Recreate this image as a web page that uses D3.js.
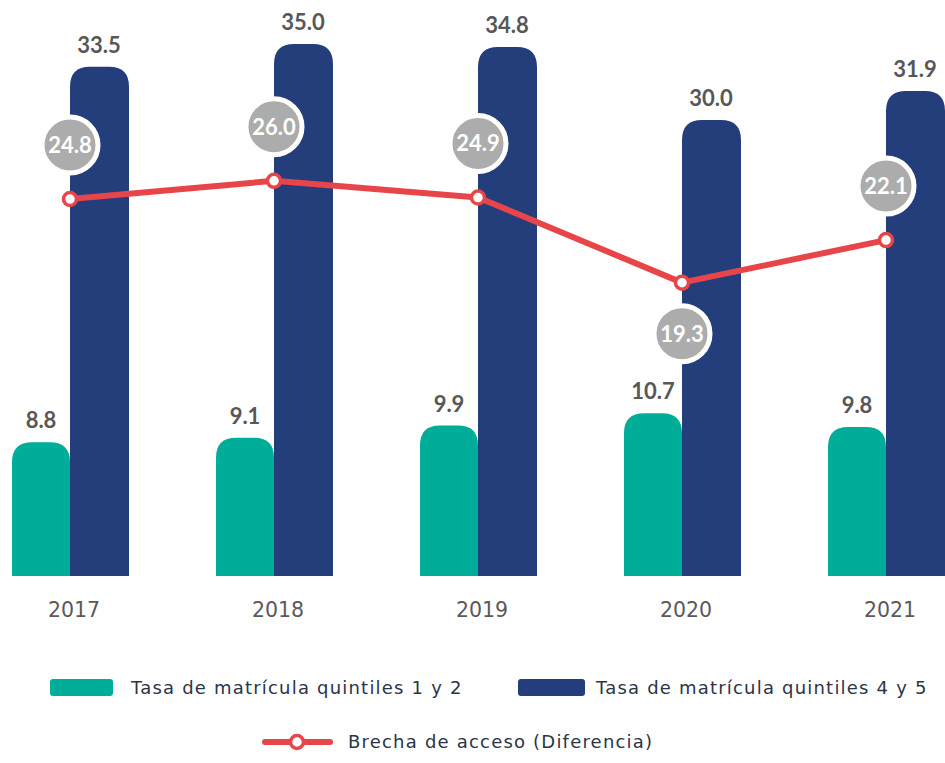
<!DOCTYPE html>
<html lang="es">
<head>
    <meta charset="UTF-8">
    <title>Brecha de acceso</title>
    <script src="https://d3js.org/d3.v7.min.js"></script>
    <style>
        body {
            margin: 0;
            padding: 0;
            background: #ffffff;
            overflow: hidden;
        }
        .val { font-family: Lato, sans-serif; font-weight: 700; font-size: 22px; fill: #575757; }
        .bubble-text { font-family: Lato, sans-serif; font-weight: 700; font-size: 22px; fill: #ffffff; }
        .year { font-family: "DejaVu Sans", sans-serif; font-size: 20.5px; fill: #5a5a5a; }
        .legend-text { font-family: "DejaVu Sans", sans-serif; font-size: 18px; letter-spacing: 1.2px; fill: #2c3447; }
    </style>
</head>
<body>
    <svg id="chart"></svg>
    <script>
        const width = 945;
        const height = 763;

        // Data
        const years = ["2017", "2018", "2019", "2020", "2021"];
        const quintiles12 = [8.8, 9.1, 9.9, 10.7, 9.8];
        const quintiles45 = [33.5, 35.0, 34.8, 30.0, 31.9];
        const brecha = [24.8, 26.0, 24.9, 19.3, 22.1];

        const seriesNames = [
            "Tasa de matrícula quintiles 1 y 2",
            "Tasa de matrícula quintiles 4 y 5",
            "Brecha de acceso (Diferencia)"
        ];

        const teal = "#00ad99";
        const navy = "#243d7b";
        const red = "#e8454b";
        const grey = "#acacac";

        const svg = d3.select("#chart")
            .attr("width", width)
            .attr("height", height);

        // Scales
        const x = d3.scalePoint()
            .domain(years)
            .range([70, 886]);

        const y = d3.scaleLinear()
            .domain([0, 35])
            .range([576, 44]);

        const barW = 58;
        const radius = 20;

        // bar with rounded top corners only
        function topRounded(x0, y0, w, h, r) {
            r = Math.min(r, w / 2, h);
            return `M${x0},${y0 + h}` +
                `V${y0 + r}` +
                `Q${x0},${y0} ${x0 + r},${y0}` +
                `H${x0 + w - r}` +
                `Q${x0 + w},${y0} ${x0 + w},${y0 + r}` +
                `V${y0 + h}Z`;
        }

        const rows = years.map((yr, i) => ({
            year: yr,
            low: quintiles12[i],
            high: quintiles45[i],
            gap: brecha[i],
            i: i
        }));

        // Bars
        svg.append("g").selectAll("path")
            .data(rows)
            .join("path")
            .attr("fill", teal)
            .attr("d", d => topRounded(x(d.year) - barW, y(d.low), barW, y(0) - y(d.low), radius));

        svg.append("g").selectAll("path")
            .data(rows)
            .join("path")
            .attr("fill", navy)
            .attr("d", d => topRounded(x(d.year), y(d.high), barW + 1, y(0) - y(d.high), radius));

        // Bar labels
        svg.append("g").selectAll("text")
            .data(rows)
            .join("text")
            .attr("class", "val")
            .attr("text-anchor", "middle")
            .attr("x", d => x(d.year) - barW / 2)
            .attr("y", d => y(d.low) - 14)
            .text(d => d.low.toFixed(1));

        svg.append("g").selectAll("text")
            .data(rows)
            .join("text")
            .attr("class", "val")
            .attr("text-anchor", "middle")
            .attr("x", d => x(d.year) + barW / 2)
            .attr("y", d => y(d.high) - 14)
            .text(d => d.high.toFixed(1));

        // Year labels
        svg.append("g").selectAll("text")
            .data(years)
            .join("text")
            .attr("class", "year")
            .attr("text-anchor", "middle")
            .attr("x", d => x(d) + 4)
            .attr("y", 617)
            .text(d => d);

        // Gap line
        const line = d3.line()
            .x(d => x(d.year))
            .y(d => y(d.gap));

        svg.append("path")
            .datum(rows)
            .attr("fill", "none")
            .attr("stroke", red)
            .attr("stroke-width", 6)
            .attr("stroke-linejoin", "round")
            .attr("d", line);

        svg.append("g").selectAll("circle")
            .data(rows)
            .join("circle")
            .attr("cx", d => x(d.year))
            .attr("cy", d => y(d.gap))
            .attr("r", 6.5)
            .attr("fill", "#fff")
            .attr("stroke", red)
            .attr("stroke-width", 3.5);

        // Bubbles: below the point only at an interior dip of the line
        const isDip = d => d.i > 0 && d.i < brecha.length - 1 &&
            d.gap < brecha[d.i - 1] && d.gap < brecha[d.i + 1];
        const bubbleY = d => y(d.gap) + (isDip(d) ? 51 : -54);

        const bubbles = svg.append("g").selectAll("g")
            .data(rows)
            .join("g")
            .attr("transform", d => `translate(${x(d.year)},${bubbleY(d)})`);

        bubbles.append("circle")
            .attr("r", 28)
            .attr("fill", grey)
            .attr("stroke", "#fff")
            .attr("stroke-width", 5);

        bubbles.append("text")
            .attr("class", "bubble-text")
            .attr("text-anchor", "middle")
            .attr("dy", "0.36em")
            .text(d => d.gap.toFixed(1));

        // Legend
        const legend = svg.append("g");

        legend.append("rect")
            .attr("x", 50).attr("y", 679)
            .attr("width", 63).attr("height", 17)
            .attr("rx", 3)
            .attr("fill", teal);
        legend.append("text")
            .attr("class", "legend-text")
            .attr("x", 131).attr("y", 694)
            .text(seriesNames[0]);

        legend.append("rect")
            .attr("x", 518).attr("y", 679)
            .attr("width", 67).attr("height", 17)
            .attr("rx", 3)
            .attr("fill", navy);
        legend.append("text")
            .attr("class", "legend-text")
            .attr("x", 596).attr("y", 694)
            .text(seriesNames[1]);

        legend.append("line")
            .attr("x1", 265).attr("x2", 330)
            .attr("y1", 742).attr("y2", 742)
            .attr("stroke", red)
            .attr("stroke-width", 6)
            .attr("stroke-linecap", "round");
        legend.append("circle")
            .attr("cx", 297).attr("cy", 742)
            .attr("r", 6.5)
            .attr("fill", "#fff")
            .attr("stroke", red)
            .attr("stroke-width", 3.5);
        legend.append("text")
            .attr("class", "legend-text")
            .attr("x", 348).attr("y", 748)
            .text(seriesNames[2]);
    </script>
</body>
</html>
